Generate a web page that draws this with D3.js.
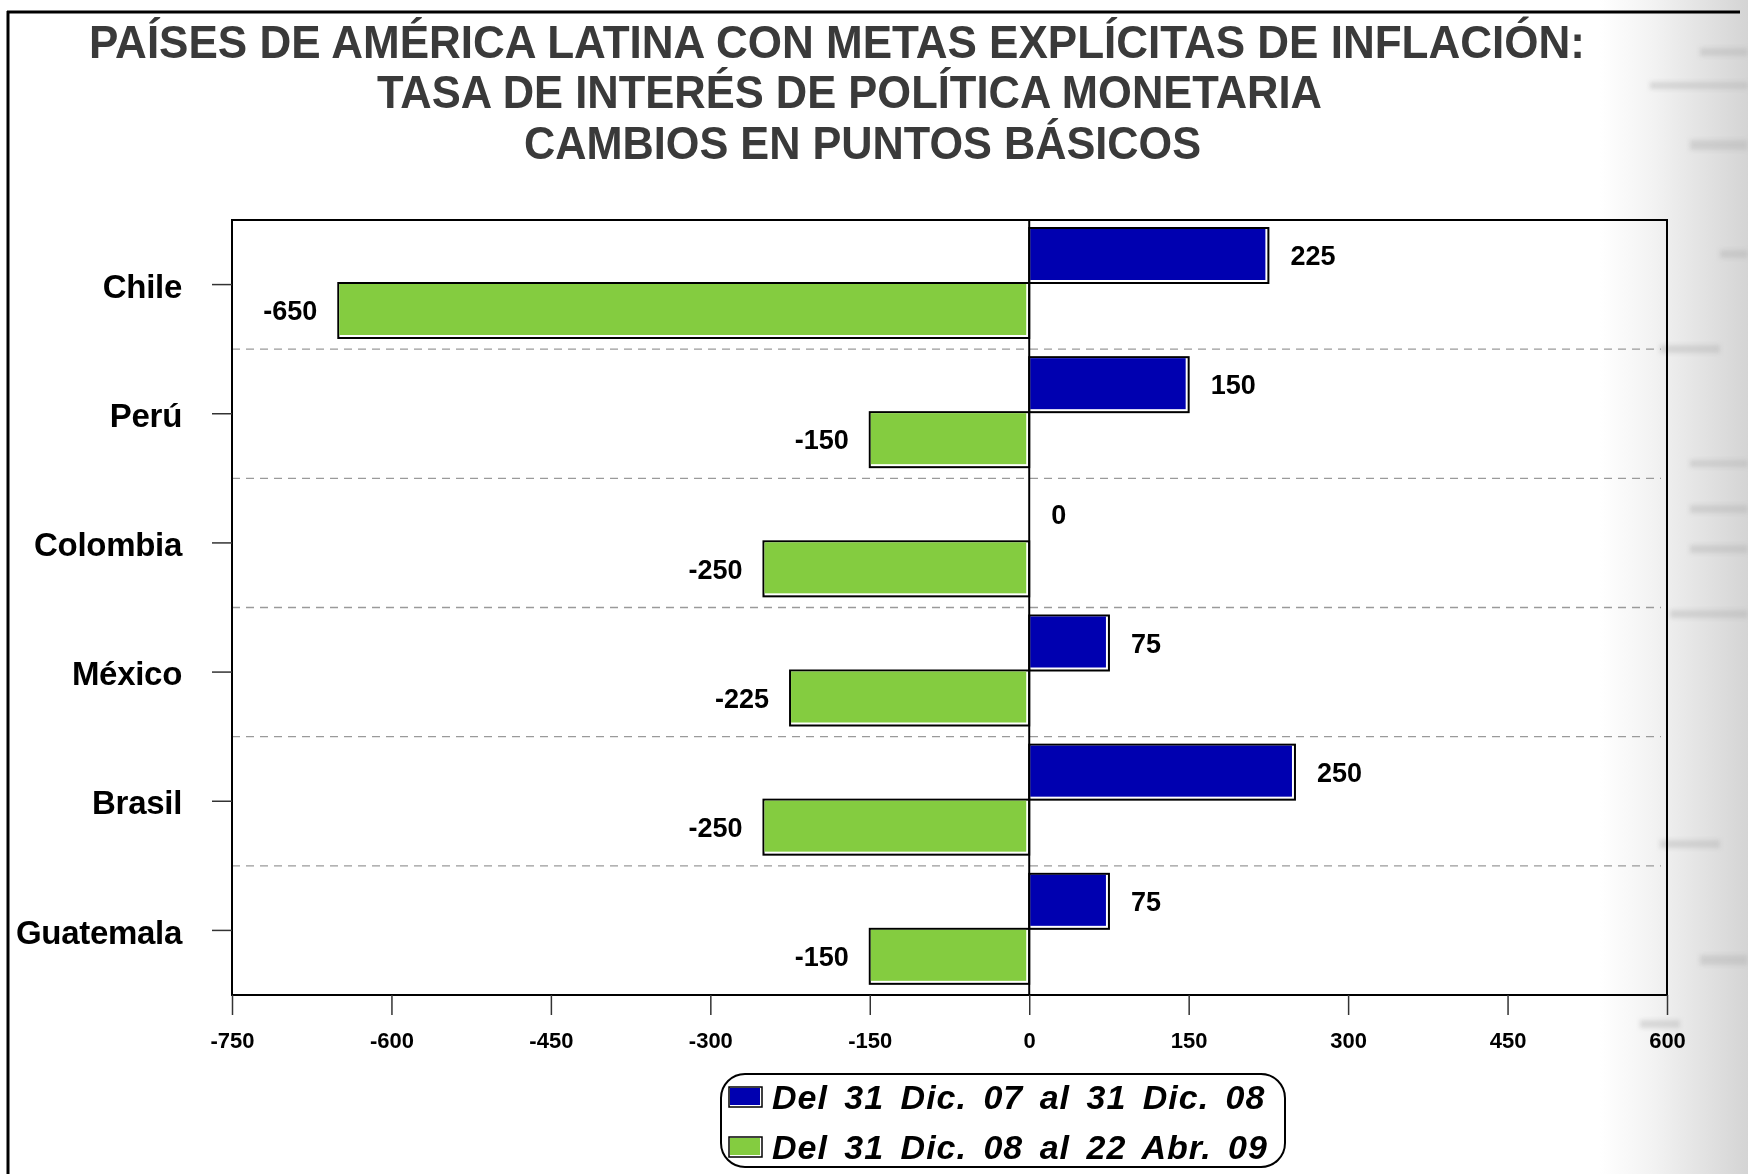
<!DOCTYPE html>
<html>
<head>
<meta charset="utf-8">
<script src="https://cdn.jsdelivr.net/npm/d3@7"></script>
<style>
  html, body { margin: 0; padding: 0; background: #fff; }
  svg { display: block; font-family: "Liberation Sans", Arial, sans-serif; }
</style>
</head>
<body>
<svg id="chart" width="1748" height="1174"></svg>
<script>
// Chart data: policy-rate changes in basis points
const countries = ["Chile", "Perú", "Colombia", "México", "Brasil", "Guatemala"];
const seriesNames = ["Del 31 Dic. 07 al 31 Dic. 08", "Del 31 Dic. 08 al 22 Abr. 09"];
const change2008 = [225, 150, 0, 75, 250, 75];
const change2009 = [-650, -150, -250, -225, -250, -150];
const xTicks = [-750, -600, -450, -300, -150, 0, 150, 300, 450, 600];
const titleLines = [
  "PAÍSES DE AMÉRICA LATINA CON METAS EXPLÍCITAS DE INFLACIÓN:",
  "TASA DE INTERÉS DE POLÍTICA MONETARIA",
  "CAMBIOS EN PUNTOS BÁSICOS"
];
const seriesColors = ["#0000b0", "#84cc40"];

const svg = d3.select("#chart");
const W = 1748, H = 1174;

// ---- page background with the faded texture on the right edge ----
const defs = svg.append("defs");
const grad = defs.append("linearGradient").attr("id", "edgeFade")
  .attr("x1", "0").attr("x2", "1").attr("y1", "0").attr("y2", "0");
grad.append("stop").attr("offset", "0").attr("stop-color", "#ffffff");
grad.append("stop").attr("offset", "0.35").attr("stop-color", "#f3f3f3");
grad.append("stop").attr("offset", "1").attr("stop-color", "#d4d4d4");
defs.append("filter").attr("id", "soft")
  .append("feGaussianBlur").attr("stdDeviation", 2);
svg.append("rect").attr("width", W).attr("height", H).attr("fill", "#fff");
svg.append("rect").attr("x", 1600).attr("y", 0).attr("width", W - 1600).attr("height", H)
  .attr("fill", "url(#edgeFade)");
const stripes = [
  [1700, 48, 48, 8], [1650, 82, 98, 7], [1690, 140, 58, 10], [1720, 250, 28, 8],
  [1660, 345, 60, 8], [1690, 460, 58, 7], [1690, 505, 58, 8], [1690, 545, 58, 8],
  [1670, 610, 78, 8], [1660, 840, 60, 8], [1700, 955, 48, 10], [1640, 1020, 40, 8]
];
svg.append("g").attr("filter", "url(#soft)")
  .selectAll("rect").data(stripes).join("rect")
  .attr("x", d => d[0]).attr("y", d => d[1]).attr("width", d => d[2]).attr("height", d => d[3])
  .attr("fill", "#b0b0b0").attr("opacity", 0.4);

// ---- outer frame (left and top) ----
svg.append("line").attr("x1", 8).attr("x2", 8).attr("y1", 11).attr("y2", H)
  .attr("stroke", "#000").attr("stroke-width", 3);
svg.append("line").attr("x1", 7).attr("x2", 1740).attr("y1", 12).attr("y2", 12)
  .attr("stroke", "#000").attr("stroke-width", 3);

// ---- title ----
const titleGeom = [
  { x: 89, y: 58, len: 1496 },
  { x: 377, y: 108, len: 945 },
  { x: 524, y: 159, len: 677 }
];
svg.append("g").selectAll("text").data(titleLines).join("text")
  .attr("x", (d, i) => titleGeom[i].x)
  .attr("y", (d, i) => titleGeom[i].y)
  .attr("textLength", (d, i) => titleGeom[i].len)
  .attr("lengthAdjust", "spacingAndGlyphs")
  .attr("font-size", 46).attr("font-weight", "bold").attr("fill", "#3a3a3a")
  .text(d => d);

// ---- plot area ----
const plot = { left: 232, right: 1667, top: 220, bottom: 995 };
const x = d3.scaleLinear().domain([-750, 600]).range([plot.left, plot.right]);
const y = d3.scaleBand().domain(countries).range([plot.top, plot.bottom]);
const ySub = d3.scaleBand().domain(seriesNames).range([8, 118]);

const rows = countries.map((c, i) => ({ country: c, values: [change2008[i], change2009[i]] }));

// dashed separators between countries
svg.append("g").selectAll("line").data(countries.slice(1)).join("line")
  .attr("x1", plot.left).attr("x2", plot.right - 6)
  .attr("y1", d => y(d)).attr("y2", d => y(d))
  .attr("stroke", "#9a9a9a").attr("stroke-width", 1.3).attr("stroke-dasharray", "8,6");

// bars: black outline with an inset fill leaving a white edge at right and bottom
const barG = svg.append("g");
rows.forEach(row => {
  row.values.forEach((v, si) => {
    const x0 = x(Math.min(0, v)), x1 = x(Math.max(0, v));
    const by = y(row.country) + ySub(seriesNames[si]);
    const bh = ySub.bandwidth();
    barG.append("rect")
      .attr("x", x0).attr("y", by).attr("width", x1 - x0).attr("height", bh)
      .attr("fill", "#fff").attr("stroke", "#000").attr("stroke-width", 2);
    if (x1 - x0 > 4) {
      barG.append("rect")
        .attr("x", x0 + 1).attr("y", by + 1)
        .attr("width", x1 - x0 - 4).attr("height", bh - 4)
        .attr("fill", seriesColors[si]);
    }
    // value label
    const lbl = barG.append("text")
      .attr("y", by + bh / 2)
      .attr("dy", "0.36em")
      .attr("font-size", 27).attr("font-weight", "bold").attr("fill", "#000")
      .text(String(v));
    if (v >= 0) lbl.attr("x", x1 + 22).attr("text-anchor", "start");
    else lbl.attr("x", x0 - 21).attr("text-anchor", "end");
  });
});

// zero line
svg.append("line").attr("x1", x(0)).attr("x2", x(0)).attr("y1", plot.top).attr("y2", plot.bottom)
  .attr("stroke", "#000").attr("stroke-width", 2);

// plot frame
svg.append("rect").attr("x", plot.left).attr("y", plot.top)
  .attr("width", plot.right - plot.left).attr("height", plot.bottom - plot.top)
  .attr("fill", "none").attr("stroke", "#000").attr("stroke-width", 2);

// x axis
const xAxis = svg.append("g").attr("transform", `translate(0,${plot.bottom})`)
  .call(d3.axisBottom(x).tickValues(xTicks).tickSize(20).tickPadding(17).tickFormat(d => String(d)));
xAxis.select(".domain").remove();
xAxis.selectAll(".tick line").attr("stroke", "#333").attr("stroke-width", 1.5);
xAxis.selectAll(".tick text").attr("font-size", 22).attr("font-weight", "bold")
  .attr("fill", "#000").attr("font-family", "Liberation Sans, Arial, sans-serif");

// y axis (country names)
const yAxis = svg.append("g").attr("transform", `translate(${plot.left},0)`)
  .call(d3.axisLeft(y).tickSize(20).tickPadding(30));
yAxis.select(".domain").remove();
yAxis.selectAll(".tick line").attr("stroke", "#333").attr("stroke-width", 1.5);
yAxis.selectAll(".tick text").attr("font-size", 33).attr("font-weight", "bold")
  .attr("fill", "#000").attr("dy", "0.4em").attr("letter-spacing", "-0.3")
  .attr("font-family", "Liberation Sans, Arial, sans-serif");

// ---- legend ----
const legend = svg.append("g");
legend.append("rect").attr("x", 721).attr("y", 1074).attr("width", 564).attr("height", 93)
  .attr("rx", 24).attr("ry", 24)
  .attr("fill", "#fff").attr("stroke", "#000").attr("stroke-width", 2);
seriesNames.forEach((name, i) => {
  const ly = 1087 + i * 50;
  legend.append("rect").attr("x", 729).attr("y", ly).attr("width", 33).attr("height", 20)
    .attr("fill", "#fff").attr("stroke", "#000").attr("stroke-width", 1.5);
  legend.append("rect").attr("x", 730).attr("y", ly + 1).attr("width", 30).attr("height", 17)
    .attr("fill", seriesColors[i]);
  legend.append("text").attr("x", 772).attr("y", ly + 22)
    .attr("letter-spacing", 1).attr("word-spacing", 6)
    .attr("font-size", 34).attr("font-weight", "bold").attr("font-style", "italic")
    .attr("fill", "#000").text(name);
});
</script>
</body>
</html>
